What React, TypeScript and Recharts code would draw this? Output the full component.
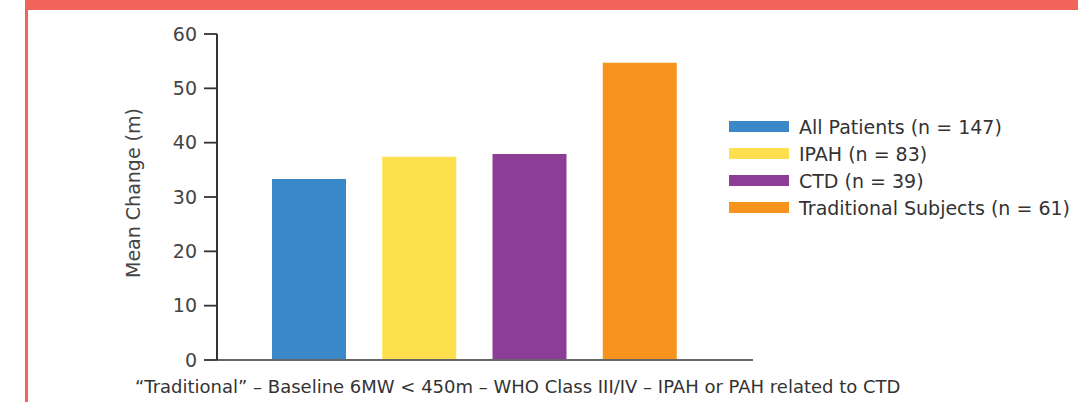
import { BarChart, Bar, XAxis, YAxis, Legend } from "recharts";

// groups shown as separate stacked series so each gets its own legend entry
const groups = [
  "All Patients (n = 147)",
  "IPAH (n = 83)",
  "CTD (n = 39)",
  "Traditional Subjects (n = 61)",
];
const seriesKeys = ["all", "ipah", "ctd", "traditional"];
const meanChange = [33.3, 37.4, 37.9, 54.7];
const colors = ["#3A88C8", "#FEE04F", "#8C3E96", "#F7941E"];
const yTicks = [0, 10, 20, 30, 40, 50, 60];
const footnote =
  "\u201CTraditional\u201D \u2013 Baseline 6MW < 450m \u2013 WHO Class III/IV \u2013 IPAH or PAH related to CTD";

const data = groups.map((g, i) => ({ name: g, [seriesKeys[i]]: meanChange[i] }));

const FONT = '"DejaVu Sans", sans-serif';
const FRAME = "#F0645C";

// keep the legend in the original group order
function LegendBox() {
  return (
    <div style={{ fontFamily: FONT, fontSize: 19, color: "#333", whiteSpace: "nowrap" }}>
      {groups.map((g, i) => (
        <div key={g} style={{ display: "flex", alignItems: "center", height: 27 }}>
          <span
            style={{
              display: "inline-block",
              width: 60,
              height: 11,
              background: colors[i],
              marginRight: 10,
            }}
          />
          <span>{g}</span>
        </div>
      ))}
    </div>
  );
}

export default function App() {
  return (
    <div
      style={{
        position: "absolute",
        left: 0,
        top: 0,
        width: 1078,
        height: 402,
        overflow: "hidden",
        background: "#fff",
      }}
    >
      <div
        style={{
          position: "absolute",
          left: 25,
          top: 0,
          width: 1053,
          height: 402,
          boxSizing: "border-box",
          borderTop: `10px solid ${FRAME}`,
          borderLeft: `3px solid ${FRAME}`,
        }}
      />
      <div style={{ position: "absolute", left: 0, top: 0 }}>
        <BarChart
          width={1078}
          height={402}
          data={data}
          margin={{ top: 34, right: 325, bottom: 40, left: 100 }}
        >
          <XAxis
            dataKey="name"
            height={2}
            tick={false}
            tickLine={false}
            axisLine={{ stroke: "#666", strokeWidth: 2 }}
            padding={{ left: 37, right: 58 }}
          />
          <YAxis
            width={117}
            domain={[0, 60]}
            ticks={yTicks}
            interval={0}
            tickSize={13}
            tickMargin={7}
            axisLine={{ stroke: "#333", strokeWidth: 2 }}
            tickLine={{ stroke: "#333", strokeWidth: 1.8 }}
            tick={{ fill: "#444", fontSize: 19, fontFamily: FONT }}
            label={{
              value: "Mean Change (m)",
              angle: -90,
              position: "center",
              dx: -25,
              dy: -4,
              style: { fill: "#444", fontSize: 19, fontFamily: FONT },
            }}
          />
          <Legend
            content={<LegendBox />}
            layout="vertical"
            align="center"
            verticalAlign="middle"
            wrapperStyle={{ position: "absolute", left: 729, top: 113, width: 345 }}
          />
          {seriesKeys.map((k, i) => (
            <Bar
              key={k}
              dataKey={k}
              name={groups[i]}
              stackId="a"
              fill={colors[i]}
              barSize={74}
              isAnimationActive={false}
            />
          ))}
        </BarChart>
      </div>
      <div
        style={{
          position: "absolute",
          left: 135,
          top: 376,
          fontFamily: FONT,
          fontSize: 18,
          color: "#333",
          whiteSpace: "nowrap",
        }}
      >
        {footnote}
      </div>
    </div>
  );
}
